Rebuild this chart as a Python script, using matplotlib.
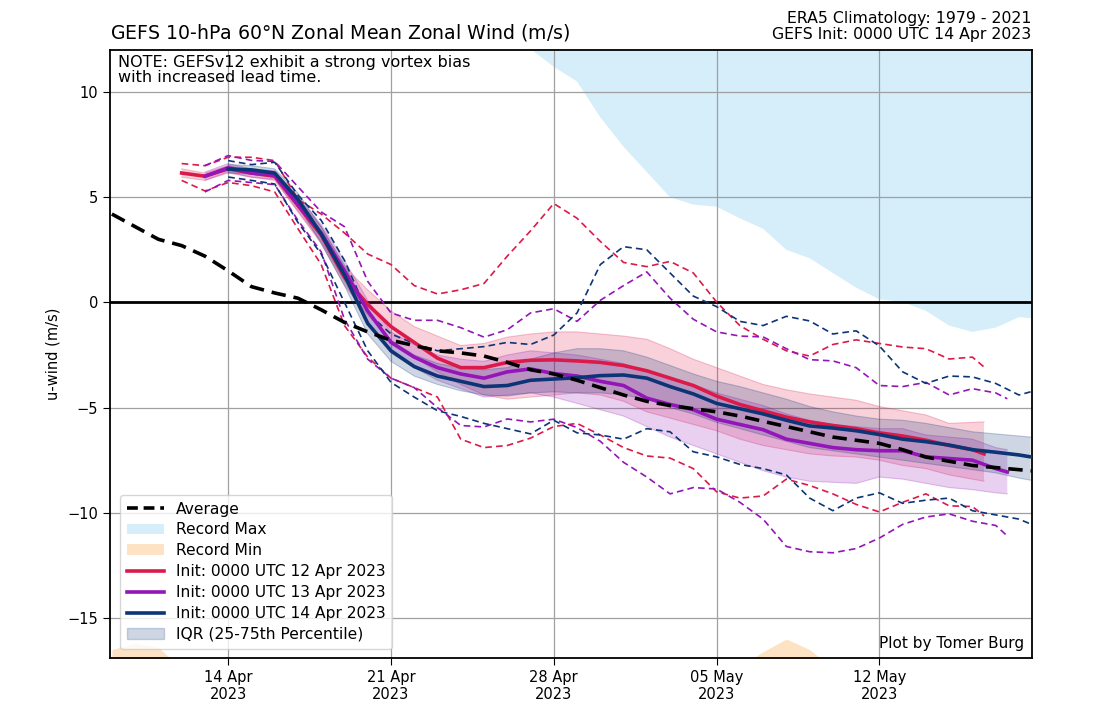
import datetime as dt

import matplotlib
matplotlib.use("Agg")
import matplotlib.pyplot as plt
import matplotlib.dates as mdates
from matplotlib.lines import Line2D
from matplotlib.patches import Patch

plt.rcParams["font.family"] = ["DejaVu Sans"]

# ---- climatology (daily, 9 Apr - 19 May 2023) ----
clim_start = dt.datetime(2023, 4, 9)
clim_avg = [4.2, 3.6, 3.0, 2.7, 2.2, 1.5, 0.75, 0.45, 0.2, -0.35,
            -0.95, -1.4, -1.8, -2.05, -2.3, -2.4, -2.55, -2.85, -3.2, -3.4,
            -3.7, -4.05, -4.4, -4.7, -4.9, -5.05, -5.2, -5.4, -5.65, -5.9,
            -6.15, -6.4, -6.55, -6.7, -7.0, -7.35, -7.55, -7.75, -7.85, -7.95,
            -8.05]
rec_max = [20.5, 20.0, 19.8, 19.0, 18.5, 18.2, 17.5, 17.0, 16.5, 16.0,
           15.5, 15.0, 14.5, 14.0, 13.5, 13.0, 12.6, 12.5, 12.05, 11.2,
           10.5, 8.8, 7.4, 6.2, 5.0, 4.65, 4.55, 4.0, 3.5, 2.5,
           2.1, 1.4, 0.7, 0.15, 0.02, -0.4, -1.1, -1.4, -1.2, -0.7,
           -0.8]
rec_min = [-16.5, -16.2, -16.4, -17.4, -18.3, -18.8, -19.0, -19.5, -19.2, -19.8,
           -20.0, -20.5, -20.2, -20.0, -19.5, -19.6, -19.0, -18.8, -18.5, -18.6,
           -18.2, -18.0, -18.3, -18.1, -17.9, -17.8, -17.6, -17.3, -16.6, -16.0,
           -16.5, -17.4, -18.0, -18.4, -18.7, -19.0, -19.3, -19.5, -19.8, -20.0,
           -20.2]

# ---- GEFS forecasts: lead time in days ----
lead_days = list(range(35)) + [34.5]

init_dates = [dt.datetime(2023, 4, 12), dt.datetime(2023, 4, 13), dt.datetime(2023, 4, 14)]
init_labels = ["Init: 0000 UTC 12 Apr 2023", "Init: 0000 UTC 13 Apr 2023",
               "Init: 0000 UTC 14 Apr 2023"]
init_colors = ["#dc1a4a", "#9415b8", "#0d3575"]

mean_12 = [6.15, 6.0, 6.35, 6.15, 6.0, 4.6, 3.2, 1.2, -0.1, -1.15,
           -1.9, -2.65, -3.1, -3.1, -2.85, -2.75, -2.73, -2.78, -2.85, -3.0,
           -3.25, -3.6, -3.95, -4.45, -4.85, -5.15, -5.45, -5.68, -5.85, -6.0,
           -6.2, -6.35, -6.55, -6.8, -7.0, -7.2]
mean_13 = [6.0, 6.4, 6.15, 6.05, 4.65, 3.3, 1.5, -0.4, -1.9, -2.6,
           -3.1, -3.4, -3.6, -3.3, -3.16, -3.38, -3.5, -3.75, -3.95, -4.55,
           -4.85, -5.1, -5.55, -5.8, -6.05, -6.5, -6.7, -6.9, -7.0, -7.05,
           -7.05, -7.34, -7.42, -7.5, -7.9, -8.06]
mean_14 = [6.34, 6.3, 6.15, 4.9, 3.25, 1.3, -1.0, -2.3, -3.05, -3.5,
           -3.75, -4.0, -3.95, -3.7, -3.64, -3.58, -3.48, -3.45, -3.6, -4.0,
           -4.35, -4.8, -5.05, -5.3, -5.6, -5.87, -5.97, -6.1, -6.28, -6.5,
           -6.62, -6.78, -7.0, -7.12, -7.25, -7.34]

iqr_lo_12 = [5.95, 5.8, 6.15, 5.95, 5.8, 4.3, 2.8, 0.8, -0.6, -1.8,
             -2.6, -3.3, -3.9, -4.4, -4.6, -4.5, -4.4, -4.3, -4.4, -4.7,
             -5.2, -5.5, -5.8, -6.1, -6.5, -6.8, -7.0, -7.2, -7.3, -7.35,
             -7.5, -7.75, -7.9, -8.2, -8.4, -8.5]
iqr_hi_12 = [6.35, 6.15, 6.5, 6.3, 6.15, 4.9, 3.6, 1.7, 0.6, -0.4,
             -1.15, -1.6, -2.05, -1.95, -1.65, -1.5, -1.4, -1.4, -1.5, -1.6,
             -1.75, -2.2, -2.7, -3.1, -3.5, -3.9, -4.15, -4.35, -4.5, -4.65,
             -4.95, -5.15, -5.35, -5.75, -5.7, -5.68]
iqr_lo_13 = [5.8, 6.2, 5.95, 5.85, 4.35, 2.9, 1.0, -0.9, -2.4, -3.1,
             -3.7, -4.1, -4.5, -4.4, -4.3, -4.5, -4.8, -5.1, -5.4, -5.9,
             -6.4, -6.8, -7.2, -7.6, -8.0, -8.3, -8.5, -8.55, -8.6, -8.3,
             -8.4, -8.6, -8.8, -8.9, -9.05, -9.1]
iqr_hi_13 = [6.2, 6.6, 6.35, 6.25, 5.0, 3.7, 2.0, 0.1, -1.4, -2.0,
             -2.5, -2.7, -2.8, -2.5, -2.3, -2.4, -2.5, -2.7, -2.9, -3.3,
             -3.6, -3.9, -4.3, -4.6, -4.9, -5.3, -5.6, -5.8, -5.9, -6.0,
             -6.0, -6.3, -6.4, -6.5, -6.9, -7.0]
iqr_lo_14 = [6.15, 6.1, 5.95, 4.6, 2.8, 0.8, -1.5, -2.8, -3.5, -3.9,
             -4.2, -4.4, -4.45, -4.3, -4.25, -4.3, -4.3, -4.4, -4.6, -5.0,
             -5.3, -5.7, -6.0, -6.3, -6.6, -6.9, -7.05, -7.2, -7.35, -7.5,
             -7.65, -7.8, -7.95, -8.1, -8.35, -8.45]
iqr_hi_14 = [6.55, 6.5, 6.35, 5.2, 3.6, 1.8, -0.5, -1.8, -2.5, -2.9,
             -3.1, -3.2, -3.1, -2.7, -2.4, -2.2, -2.2, -2.3, -2.6, -3.0,
             -3.4, -3.75, -4.0, -4.3, -4.6, -4.95, -5.2, -5.4, -5.55, -5.6,
             -5.75, -5.95, -6.15, -6.25, -6.35, -6.4]

max_12 = [6.6, 6.5, 6.9, 6.9, 6.74, 4.9, 4.2, 3.3, 2.3, 1.8,
          0.8, 0.4, 0.6, 0.9, 2.2, 3.4, 4.7, 4.0, 2.9, 1.9,
          1.7, 1.95, 1.4, 0.02, -1.1, -1.75, -2.3, -2.55, -2.0, -1.78,
          -1.95, -2.12, -2.2, -2.69, -2.6, -3.07]
min_12 = [5.8, 5.3, 5.7, 5.55, 5.25, 3.5, 1.8, -1.1, -2.6, -3.6,
          -4.05, -4.5, -6.5, -6.9, -6.8, -6.45, -5.9, -5.75, -6.3, -6.9,
          -7.3, -7.4, -7.9, -9.0, -9.3, -9.2, -8.4, -8.7, -9.1, -9.6,
          -9.96, -9.5, -9.1, -9.67, -9.7, -10.15]
max_13 = [6.5, 6.98, 6.75, 6.7, 5.5, 4.3, 3.6, 1.0, -0.5, -0.85,
          -0.85, -1.2, -1.65, -1.3, -0.5, -0.3, -0.9, 0.1, 0.8, 1.45,
          0.2, -0.8, -1.4, -1.6, -1.64, -2.2, -2.72, -2.78, -3.1, -3.95,
          -4.0, -3.8, -4.4, -4.1, -4.3, -4.58]
min_13 = [5.25, 5.8, 5.7, 5.6, 3.9, 2.4, -0.8, -2.7, -3.6, -4.05,
          -5.0, -5.85, -5.92, -5.54, -5.68, -5.55, -5.95, -6.6, -7.6, -8.3,
          -9.1, -8.8, -8.87, -9.5, -10.3, -11.6, -11.85, -11.9, -11.7, -11.2,
          -10.55, -10.2, -10.05, -10.4, -10.6, -11.1]
max_14 = [6.74, 6.55, 6.66, 5.1, 3.9, 2.0, -0.5, -1.5, -1.95, -2.3,
          -2.2, -2.1, -1.9, -2.0, -1.55, -0.5, 1.8, 2.65, 2.5, 1.4,
          0.3, -0.2, -0.9, -1.1, -0.66, -0.88, -1.5, -1.35, -2.07, -3.3,
          -3.85, -3.5, -3.54, -3.85, -4.4, -4.25]
min_14 = [5.96, 5.8, 5.63, 3.8, 2.3, 0.0, -2.3, -3.8, -4.5, -5.15,
          -5.42, -5.75, -6.0, -6.25, -5.6, -6.2, -6.3, -6.5, -6.0, -6.15,
          -7.1, -7.34, -7.7, -7.9, -8.2, -9.3, -9.9, -9.3, -9.05, -9.55,
          -9.4, -9.3, -9.9, -10.1, -10.3, -10.53]

means = [mean_12, mean_13, mean_14]
iqr_lo = [iqr_lo_12, iqr_lo_13, iqr_lo_14]
iqr_hi = [iqr_hi_12, iqr_hi_13, iqr_hi_14]
ens_max = [max_12, max_13, max_14]
ens_min = [min_12, min_13, min_14]


def main() -> None:
    clim_dates = [clim_start + dt.timedelta(days=i) for i in range(len(clim_avg))]

    fig = plt.figure(figsize=(10.94, 7.24), dpi=100)
    ax = fig.add_axes([0.1005, 0.0912, 0.8424, 0.8398])

    ax.fill_between(clim_dates, rec_max, 40, color="#d6edfa", lw=0, zorder=1)
    ax.fill_between(clim_dates, -40, rec_min, color="#fde3c3", lw=0, zorder=1)

    ax.grid(True, color="#a0a0a0", lw=0.9, zorder=2)
    ax.axhline(0, color="black", lw=2, zorder=3)

    for init, col, lo, hi, mx, mn in zip(init_dates, init_colors,
                                         iqr_lo, iqr_hi, ens_max, ens_min):
        times = [init + dt.timedelta(days=float(d)) for d in lead_days]
        ax.fill_between(times, lo, hi, facecolor=col, alpha=0.2,
                        edgecolor="none", zorder=4)
        ax.plot(times, lo, color=col, lw=0.8, alpha=0.25, zorder=4)
        ax.plot(times, hi, color=col, lw=0.8, alpha=0.25, zorder=4)
        ax.plot(times, mx, color=col, lw=1.2, ls=(0, (4, 2.5)), zorder=5)
        ax.plot(times, mn, color=col, lw=1.2, ls=(0, (4, 2.5)), zorder=5)

    for init, col, m in zip(init_dates, init_colors, means):
        times = [init + dt.timedelta(days=float(d)) for d in lead_days]
        ax.plot(times, m, color=col, lw=2.6, zorder=6)

    ax.plot(clim_dates, clim_avg, color="black", lw=2.6, ls=(0, (4, 2.2)), zorder=7)

    ax.set_xlim(dt.datetime(2023, 4, 8, 22), dt.datetime(2023, 5, 18, 13))
    ax.set_ylim(-16.9, 12)
    ax.set_yticks([-15, -10, -5, 0, 5, 10])
    ax.set_yticklabels(["\u221215", "\u221210", "\u22125", "0", "5", "10"])
    ax.set_xticks([dt.datetime(2023, 4, 14), dt.datetime(2023, 4, 21),
                   dt.datetime(2023, 4, 28), dt.datetime(2023, 5, 5),
                   dt.datetime(2023, 5, 12)])
    ax.xaxis.set_major_formatter(mdates.DateFormatter("%d %b\n%Y"))
    ax.tick_params(labelsize=10.5, length=5)
    for s in ax.spines.values():
        s.set_linewidth(1.3)
    ax.set_ylabel("u-wind (m/s)", fontsize=10.5, labelpad=5)

    ax.set_title("GEFS 10-hPa 60$\\degree$N Zonal Mean Zonal Wind (m/s)",
                 loc="left", fontsize=13.6, pad=8)
    ax.set_title("ERA5 Climatology: 1979 - 2021\nGEFS Init: 0000 UTC 14 Apr 2023",
                 loc="right", fontsize=11.3, linespacing=1.05, pad=8)

    ax.text(0.009, 0.992, "NOTE: GEFSv12 exhibit a strong vortex bias\nwith increased lead time.",
            transform=ax.transAxes, ha="left", va="top", fontsize=11.5,
            linespacing=0.98, zorder=8)
    ax.text(0.992, 0.012, "Plot by Tomer Burg", transform=ax.transAxes,
            ha="right", va="bottom", fontsize=11, zorder=8)

    handles = [
        Line2D([], [], color="black", lw=2.6, ls=(0, (3, 1.6))),
        Patch(facecolor="#d6edfa", edgecolor="none"),
        Patch(facecolor="#fde3c3", edgecolor="none"),
        Line2D([], [], color=init_colors[0], lw=2.6),
        Line2D([], [], color=init_colors[1], lw=2.6),
        Line2D([], [], color=init_colors[2], lw=2.6),
        Patch(facecolor="#0d3575", alpha=0.2, edgecolor="#0d3575"),
    ]
    labels = ["Average", "Record Max", "Record Min"] + init_labels + ["IQR (25-75th Percentile)"]
    leg = ax.legend(handles, labels, loc="lower left", fontsize=11.2,
                    framealpha=0.8, borderpad=0.45, labelspacing=0.38,
                    handlelength=2.4, handletextpad=0.75,
                    bbox_to_anchor=(0.002, 0.002))
    leg.set_zorder(9)

    fig.savefig("out.png", dpi=100)


if __name__ == "__main__":
    main()
